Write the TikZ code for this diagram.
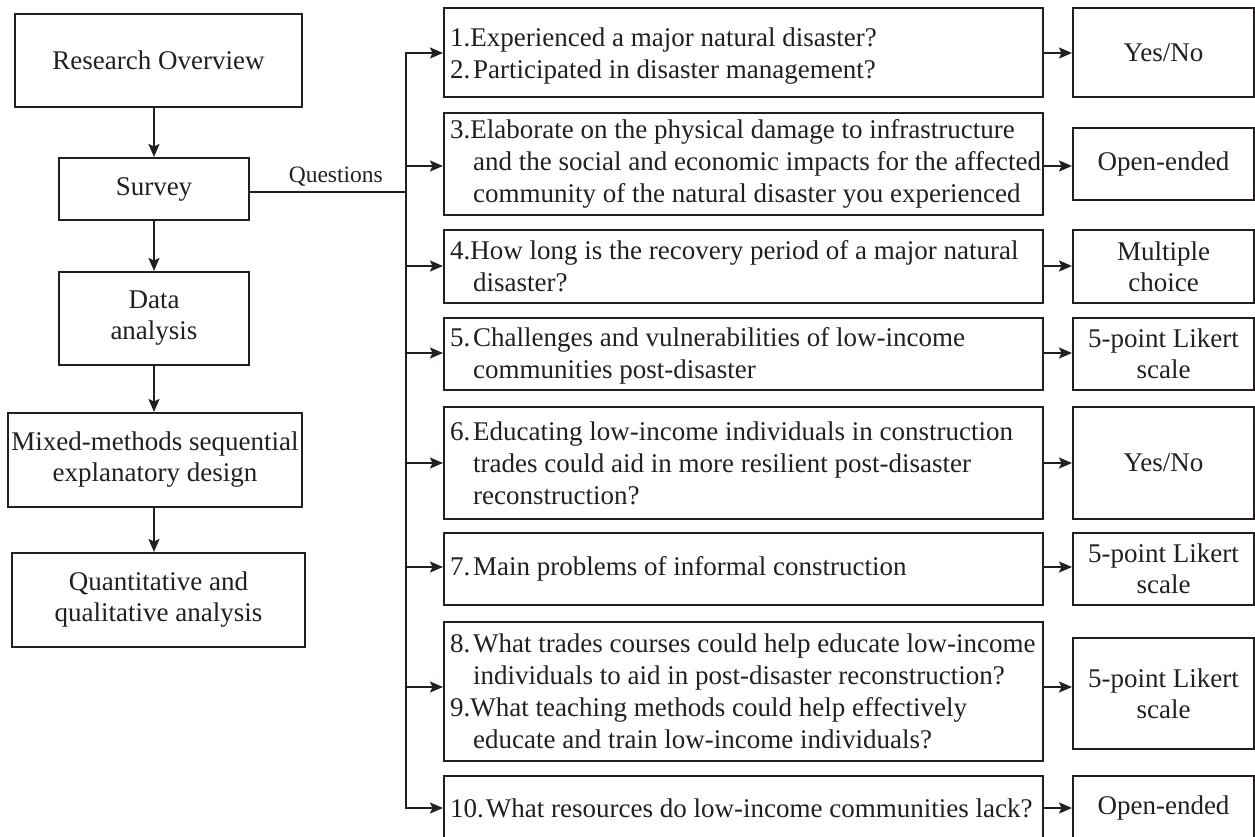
\documentclass[tikz,border=0pt]{standalone}
\usepackage{fontspec}
\setmainfont{Liberation Serif}
\usetikzlibrary{arrows.meta}
\definecolor{ink}{HTML}{231F20}
\newcommand\qn[1]{\makebox[23pt][l]{#1}}
\newcommand\ind{\hspace*{23pt}}
\begin{document}
\begin{tikzpicture}[x=1pt,y=-1pt,
  box/.style={draw=ink, line width=2pt, align=center, inner sep=2pt, text=ink,
    font=\fontsize{27}{31}\selectfont},
  qbox/.style={draw=ink, line width=2pt, minimum width=599pt, inner sep=0pt},
  qtext/.style={anchor=west, align=left, inner sep=0pt, text=ink,
    font=\fontsize{27}{32}\selectfont},
  arr/.style={draw=ink, line width=1.8pt, -{Stealth[length=13pt,width=11pt,inset=2.5pt]}},
  link/.style={draw=ink, line width=1.8pt},
  lbl/.style={text=ink, font=\fontsize{23.5}{28}\selectfont, inner sep=0pt}
]
\useasboundingbox (0,0) rectangle (1255,837);

% left column
\node[box, minimum width=287pt, minimum height=93pt] (ro) at (158.5,60.5) {Research Overview};
\node[box, minimum width=190pt, minimum height=62pt] (survey) at (154,189) {Survey};
\node[box, minimum width=190pt, minimum height=93pt] (data) at (154,318.5) {Data\\analysis};
\node[box, minimum width=294pt, minimum height=94pt] (mixed) at (155,460) {Mixed-methods sequential\\explanatory design};
\node[box, minimum width=293pt, minimum height=94pt] (quant) at (158.5,600) {Quantitative and\\qualitative analysis};

\draw[arr] (ro.south -| survey) -- (survey.north);
\draw[arr] (survey) -- (data);
\draw[arr] (data) -- (data |- mixed.north);
\draw[arr] (data |- mixed.south) -- (data |- quant.north);

% rows
\coordinate (qsplit) at (406,192);
\coordinate (r1) at (0,53);
\coordinate (r3) at (0,166);
\coordinate (r4) at (0,266);
\coordinate (r5) at (0,353);
\coordinate (r6) at (0,463);
\coordinate (r7) at (0,567);
\coordinate (r8) at (0,687);
\coordinate (r10) at (0,808);

\draw[link] (survey.east |- qsplit) -- node[lbl, pos=0.55, anchor=base, yshift=9pt] {Questions} (qsplit);

% question boxes
\node[qbox, minimum height=89pt] (q1) at (743.5,52.5) {};
\node[qtext] (t1) at ([xshift=7pt,yshift=-4pt]q1.west) {1.Experienced a major natural disaster?\\\qn{2.}Participated in disaster management?};

\node[qbox, minimum height=102pt] (q3) at (743.5,164) {};
\node[qtext] (t3) at ([xshift=7pt]q3.west) {3.Elaborate on the physical damage to infrastructure\\\ind and the social and economic impacts for the affected\\\ind community of the natural disaster you experienced};

\node[qbox, minimum height=73pt] (q4) at (743.5,266.5) {};
\node[qtext] (t4) at ([xshift=7pt]q4.west) {4.How long is the recovery period of a major natural\\\ind disaster?};

\node[qbox, minimum height=72pt] (q5) at (743.5,354) {};
\node[qtext] (t5) at ([xshift=7pt,yshift=-2pt]q5.west) {\qn{5.}Challenges and vulnerabilities of low-income\\\ind communities post-disaster};

\node[qbox, minimum height=112pt] (q6) at (743.5,463) {};
\node[qtext] (t6) at ([xshift=7pt]q6.west) {\qn{6.}Educating low-income individuals in construction\\\ind trades could aid in more resilient post-disaster\\\ind reconstruction?};

\node[qbox, minimum height=72pt] (q7) at (743.5,569) {};
\node[qtext] (t7) at ([xshift=7pt]q7.west) {\qn{7.}Main problems of informal construction};

\node[qbox, minimum height=139pt] (q8) at (743.5,691.5) {};
\node[qtext] (t8) at ([xshift=7pt]q8.west) {\qn{8.}What trades courses could help educate low-income\\\ind individuals to aid in post-disaster reconstruction?\\9.What teaching methods could help effectively\\\ind educate and train low-income individuals?};

\node[qbox, minimum height=64pt] (q10) at (743.5,808) {};
\node[qtext] (t10) at ([xshift=7pt]q10.west) {10.\hspace{2pt}What resources do low-income communities lack?};

% answer boxes
\node[box, minimum width=181pt, minimum height=89pt] (a1) at (1163.5,52.5) {Yes/No};
\node[box, minimum width=181pt, minimum height=72pt] (a3) at (1163.5,164) {Open-ended};
\node[box, minimum width=181pt, minimum height=73pt] (a4) at (1163.5,266.5) {Multiple\\choice};
\node[box, minimum width=181pt, minimum height=72pt] (a5) at (1163.5,354) {5-point Likert\\scale};
\node[box, minimum width=181pt, minimum height=112pt] (a6) at (1163.5,463) {Yes/No};
\node[box, minimum width=181pt, minimum height=72pt] (a7) at (1163.5,569) {5-point Likert\\scale};
\node[box, minimum width=181pt, minimum height=111pt] (a8) at (1163.5,693.5) {5-point Likert\\scale};
\node[box, minimum width=181pt, minimum height=64pt] (a10) at (1163.5,808) {Open-ended};

% trunk and arrows to questions
\draw[arr] (qsplit) |- (q1.west |- r1);
\draw[arr] (qsplit) |- (q10.west |- r10);
\draw[arr] (qsplit |- r3) -- (q3.west |- r3);
\draw[arr] (qsplit |- r4) -- (q4.west |- r4);
\draw[arr] (qsplit |- r5) -- (q5.west |- r5);
\draw[arr] (qsplit |- r6) -- (q6.west |- r6);
\draw[arr] (qsplit |- r7) -- (q7.west |- r7);
\draw[arr] (qsplit |- r8) -- (q8.west |- r8);

% arrows to answers
\draw[arr] (q1.east |- r1) -- (a1.west |- r1);
\draw[arr] (q3.east |- r3) -- (a3.west |- r3);
\draw[arr] (q4.east |- r4) -- (a4.west |- r4);
\draw[arr] (q5.east |- r5) -- (a5.west |- r5);
\draw[arr] (q6.east |- r6) -- (a6.west |- r6);
\draw[arr] (q7.east |- r7) -- (a7.west |- r7);
\draw[arr] (q8.east |- r8) -- (a8.west |- r8);
\draw[arr] (q10.east |- r10) -- (a10.west |- r10);
\end{tikzpicture}
\end{document}
